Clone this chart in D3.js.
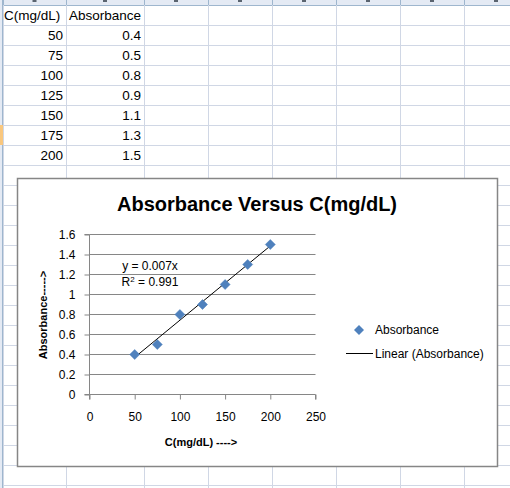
<!DOCTYPE html>
<html><head><meta charset="utf-8">
<script src="https://cdn.jsdelivr.net/npm/d3@7"></script>
<style>html,body{margin:0;padding:0;background:#fff;}svg{display:block;}</style>
</head><body>
<svg id="c" width="510" height="488"></svg>
<script>
const concentration = [50, 75, 100, 125, 150, 175, 200];
const absorbance = [0.4, 0.5, 0.8, 0.9, 1.1, 1.3, 1.5];
const xTicks = [0, 50, 100, 150, 200, 250];
const yTicks = [0, 0.2, 0.4, 0.6, 0.8, 1, 1.2, 1.4, 1.6];
const trendSlope = 0.00743; // linear fit through origin, shown as y = 0.007x
const equationLines = ["y = 0.007x", "R² = 0.991"];
const headerNames = ["C(mg/dL)", "Absorbance"];
const seriesName = "Absorbance";
const trendName = "Linear (Absorbance)";
const chartTitle = "Absorbance Versus C(mg/dL)";
const xTitle = "C(mg/dL) ---->";
const yTitle = "Absorbance----->";

const svg = d3.select("#c");
const W = 510, H = 488;
const sheetFont = "Liberation Sans, Arial, sans-serif";

// ---- spreadsheet background ----
const colEdges = [3, 66, 144, 208, 272, 336, 400, 464, 528];
const gridColor = "#D0D7E5";
const sheet = svg.append("g");
sheet.append("rect").attr("x",0).attr("y",0).attr("width",W).attr("height",5).attr("fill","#E4EAF4");
d3.range(5, H, 20).forEach((y,i) => {
  sheet.append("line").attr("x1",3).attr("x2",W).attr("y1",y+0.5).attr("y2",y+0.5)
    .attr("stroke", i===0 ? "#9EB6CE" : gridColor).attr("stroke-width",1);
});
colEdges.forEach(x => {
  sheet.append("line").attr("x1",x+0.5).attr("x2",x+0.5).attr("y1",0).attr("y2",H).attr("stroke", gridColor);
  sheet.append("line").attr("x1",x+0.5).attr("x2",x+0.5).attr("y1",0).attr("y2",5).attr("stroke", "#9EB6CE");
});
sheet.append("rect").attr("x",0).attr("y",0).attr("width",3).attr("height",H).attr("fill","#E4EAF4");
sheet.append("line").attr("x1",2.5).attr("x2",2.5).attr("y1",0).attr("y2",H).attr("stroke","#9EB6CE");
sheet.append("rect").attr("x",0).attr("y",125).attr("width",3).attr("height",20).attr("fill","#F9C77E");
// cut-off column letter fragments in the header strip
d3.range(colEdges.length-1).forEach(i => {
  const cx = (colEdges[i]+colEdges[i+1])/2;
  sheet.append("rect").attr("x",cx-2).attr("y",0).attr("width",4).attr("height",2).attr("fill","#5a6470");
});
// cells
sheet.append("text").attr("x",4).attr("y",20).attr("font-family",sheetFont).attr("font-size",13.5).attr("fill","#000").text(headerNames[0]);
sheet.append("text").attr("x",69).attr("y",20).attr("font-family",sheetFont).attr("font-size",13.5).attr("fill","#000").text(headerNames[1]);
concentration.forEach((c,i) => {
  const y = 40 + 20*i;
  sheet.append("text").attr("x",63).attr("y",y).attr("text-anchor","end").attr("font-family",sheetFont).attr("font-size",13.5).text(c);
  sheet.append("text").attr("x",141).attr("y",y).attr("text-anchor","end").attr("font-family",sheetFont).attr("font-size",13.5).text(absorbance[i].toFixed(1));
});

// ---- chart ----
const chart = svg.append("g");
chart.append("rect").attr("x",17.5).attr("y",178.5).attr("width",480).attr("height",288)
  .attr("fill","#fff").attr("stroke","#868686").attr("stroke-width",1.5);

chart.append("text").attr("x",257).attr("y",211).attr("text-anchor","middle")
  .attr("font-family",sheetFont).attr("font-weight","bold").attr("font-size",20).text(chartTitle);

const x = d3.scaleLinear().domain([0,250]).range([89.5,315.5]);
const y = d3.scaleLinear().domain([0,1.6]).range([394.5,234.5]);

chart.append("g").selectAll("line").data(yTicks.filter(t=>t>0)).join("line")
  .attr("x1",x(0)).attr("x2",x(250)).attr("y1",d=>y(d)).attr("y2",d=>y(d))
  .attr("stroke","#868686").attr("stroke-width",1);

const xAxis = chart.append("g").attr("transform",`translate(0,${y(0)})`)
  .call(d3.axisBottom(x).tickValues(xTicks).tickSize(5).tickPadding(13).tickFormat(d3.format("d")));
const yAxis = chart.append("g").attr("transform",`translate(${x(0)},0)`)
  .call(d3.axisLeft(y).tickValues(yTicks).tickSize(5).tickPadding(9).tickFormat(d => d3.format("")(+d.toFixed(1))));
[xAxis,yAxis].forEach(a => {
  a.select(".domain").attr("stroke","#868686");
  a.selectAll(".tick line").attr("stroke","#868686");
  a.selectAll("text").attr("font-family",sheetFont).attr("font-size",12).attr("fill","#000");
});
xAxis.select(".domain").attr("d", `M${x(0)},5V0H${x(250)}V5`);
yAxis.select(".domain").attr("d", `M-5,${y(1.6)}H0V${y(0)}H-5`);

chart.append("text").attr("x",201).attr("y",446).attr("text-anchor","middle")
  .attr("font-family",sheetFont).attr("font-weight","bold").attr("font-size",11).text(xTitle);
chart.append("text").attr("transform","translate(47,315) rotate(-90)").attr("text-anchor","middle")
  .attr("font-family",sheetFont).attr("font-weight","bold").attr("font-size",11).text(yTitle);

const xMin = d3.min(concentration), xMax = d3.max(concentration);
chart.append("line").attr("x1",x(xMin)).attr("y1",y(trendSlope*xMin))
  .attr("x2",x(xMax)).attr("y2",y(trendSlope*xMax)).attr("stroke","#000").attr("stroke-width",1);

const diamondPath = "M0,-5L5,0L0,5L-5,0Z";
chart.append("g").selectAll("path").data(concentration).join("path")
  .attr("d", diamondPath)
  .attr("transform",(d,i)=>`translate(${x(d)},${y(absorbance[i])})`)
  .attr("fill","#4F81BD").attr("stroke","#4A7EBB").attr("stroke-width",0.5);

chart.append("text").attr("x",150).attr("y",270).attr("text-anchor","middle")
  .attr("font-family",sheetFont).attr("font-size",12).text(equationLines[0]);
const r2 = chart.append("text").attr("x",150).attr("y",286).attr("text-anchor","middle")
  .attr("font-family",sheetFont).attr("font-size",12);
r2.append("tspan").text("R");
r2.append("tspan").attr("dy",-4).attr("font-size",8).text("2");
r2.append("tspan").attr("dy",4).text(" = " + equationLines[1].split("= ")[1]);

chart.append("path").attr("d",diamondPath).attr("transform","translate(359,330)").attr("fill","#4F81BD");
chart.append("text").attr("x",375).attr("y",334).attr("font-family",sheetFont).attr("font-size",12).text(seriesName);
chart.append("line").attr("x1",346).attr("x2",373).attr("y1",353.5).attr("y2",353.5).attr("stroke","#000");
chart.append("text").attr("x",375).attr("y",358).attr("font-family",sheetFont).attr("font-size",12).text(trendName);
</script>
</body></html>
